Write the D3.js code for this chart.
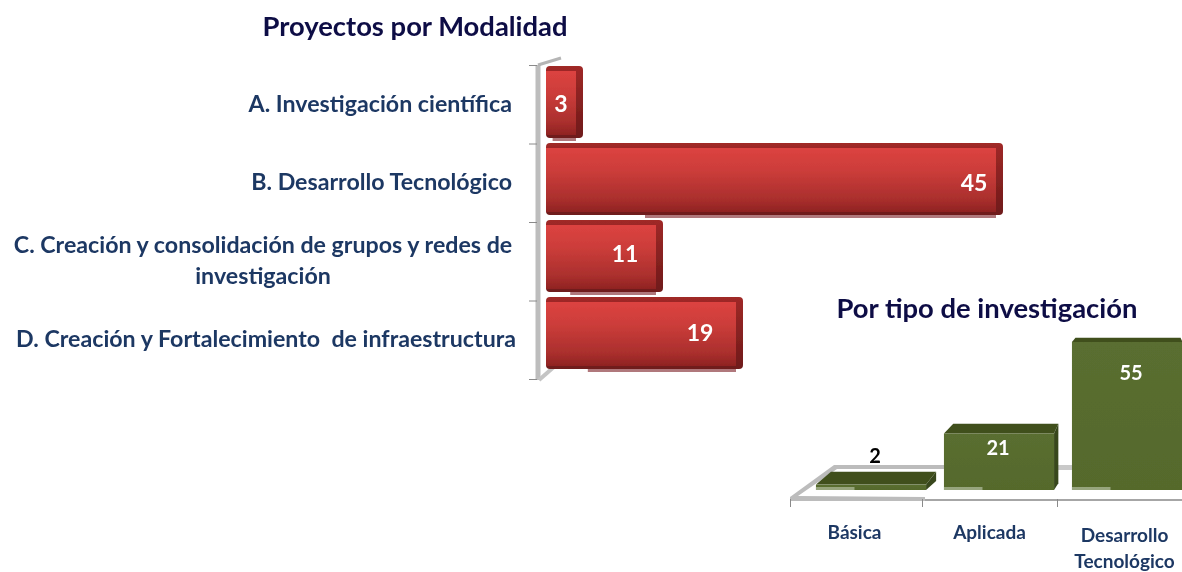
<!DOCTYPE html>
<html>
<head>
<meta charset="utf-8">
<script src="https://cdn.jsdelivr.net/npm/d3@7"></script>
<style>
  html, body { margin: 0; padding: 0; background: #fff; overflow: hidden; }
  text { font-family: Lato, "Open Sans", sans-serif; font-weight: 700; }
</style>
</head>
<body>
<div id="chart"></div>
<script>
// values
const modalidades = ["A", "B", "C", "D"];
const modalidadLabels = [
  ["A. Investigación científica"],
  ["B. Desarrollo Tecnológico"],
  ["C. Creación y consolidación de grupos y redes de", "investigación"],
  ["D. Creación y Fortalecimiento  de infraestructura"]
];
const modalidadValues = [3, 45, 11, 19];

const tipos = ["Básica", "Aplicada", "Desarrollo Tecnológico"];
const tipoLabels = [["Básica"], ["Aplicada"], ["Desarrollo", "Tecnológico"]];
const tipoValues = [2, 21, 55];

// hand placed number labels of the top chart, the original moved them by hand
const valueBackoff = [15, 22, 31, 36];
const valueDrop = [10, 12, 6, 8];

const width = 1182, height = 572;

const svg = d3.select("#chart").append("svg")
    .attr("width", width)
    .attr("height", height)
    .attr("viewBox", [0, 0, width, height])
    .style("display", "block");

const defs = svg.append("defs");

// slight softening, the original is a scaled-up raster
defs.append("filter").attr("id", "soft")
    .append("feGaussianBlur").attr("stdDeviation", 0.55);
defs.append("filter").attr("id", "softText")
    .append("feGaussianBlur").attr("stdDeviation", 0.3);

function vGrad(id, stops) {
  const g = defs.append("linearGradient").attr("id", id)
      .attr("x1", 0).attr("x2", 0).attr("y1", 0).attr("y2", 1);
  stops.forEach(s => g.append("stop").attr("offset", s[0]).attr("stop-color", s[1]));
}
vGrad("redFront", [[0, "#dc4340"], [0.35, "#cc3d3a"], [0.8, "#aa2f2d"], [1, "#8f2322"]]);
vGrad("redSide", [[0, "#a02927"], [1, "#6e1a1a"]]);
vGrad("greenFront", [[0, "#5a6e30"], [1, "#55692c"]]);

/* ---------- top chart: Proyectos por Modalidad ---------- */
const topChart = svg.append("g");

const xTop = d3.scaleLinear().domain([0, 45]).range([546, 996]);
const yTop = d3.scaleBand().domain(modalidades).range([63.5, 371.5]).paddingInner(0.065).paddingOuter(0.0325);
// axis ticks sit on the band edges, the category names are centred between them
const yEdges = d3.scaleLinear().domain([0, modalidades.length]).range([65, 379]);

const marksTop = topChart.append("g").attr("filter", "url(#soft)");

// grey wall behind the bars
const wallX = 538;
marksTop.append("line")
    .attr("x1", wallX).attr("x2", wallX)
    .attr("y1", yEdges(0)).attr("y2", yEdges(4) + 1)
    .attr("stroke", "#bdbdbd").attr("stroke-width", 5);
marksTop.append("polyline")
    .attr("points", [[wallX, yEdges(0)], [561, yEdges(0) - 7]].join(" "))
    .attr("fill", "none").attr("stroke", "#b5b5b5").attr("stroke-width", 3);
marksTop.append("polyline")
    .attr("points", [[wallX + 1, yEdges(4) + 1], [555, yEdges(4) - 13]].join(" "))
    .attr("fill", "none").attr("stroke", "#c4c4c4").attr("stroke-width", 4);

const axisTop = marksTop.append("g")
    .attr("transform", `translate(${wallX - 1},0)`)
    .call(d3.axisLeft(yEdges).tickValues(d3.range(0, 5)).tickSize(8).tickFormat(""));
axisTop.select(".domain").remove();
axisTop.selectAll("line").attr("stroke", "#8a8a8a").attr("stroke-width", 1);

const depth = 7;
const topData = modalidades.map((m, i) => ({ m, i, v: modalidadValues[i], lines: modalidadLabels[i] }));

const barTop = marksTop.selectAll(".barTop")
    .data(topData)
    .join("g")
    .attr("class", "barTop");

// pale reflection under each bar
barTop.append("rect")
    .attr("x", d => xTop(d.v * 0.22))
    .attr("width", d => xTop(d.v) - xTop(d.v * 0.22))
    .attr("y", d => yTop(d.m) + yTop.bandwidth() - 2)
    .attr("height", 5)
    .attr("fill", "#b0787b");

barTop.append("rect") // top and right faces
    .attr("x", d => xTop(0))
    .attr("width", d => xTop(d.v) - xTop(0) + depth)
    .attr("y", d => yTop(d.m))
    .attr("height", d => yTop.bandwidth())
    .attr("rx", 4)
    .attr("fill", "url(#redSide)");

barTop.append("rect") // front
    .attr("x", d => xTop(0))
    .attr("width", d => xTop(d.v) - xTop(0))
    .attr("y", d => yTop(d.m) + depth - 2)
    .attr("height", d => yTop.bandwidth() - depth - 1)
    .attr("fill", "url(#redFront)");

const textTop = topChart.append("g").attr("filter", "url(#softText)");

textTop.append("text")
    .attr("x", 415).attr("y", 36)
    .attr("text-anchor", "middle")
    .attr("font-size", 27.4)
    .attr("fill", "#0e0b45")
    .text("Proyectos por Modalidad");

textTop.selectAll(".valTop")
    .data(topData)
    .join("text")
    .attr("class", "valTop")
    .attr("x", d => xTop(d.v) - valueBackoff[d.i])
    .attr("y", d => yTop(d.m) + yTop.bandwidth() / 2 + valueDrop[d.i])
    .attr("text-anchor", "middle")
    .attr("font-size", 23)
    .attr("fill", "#fff")
    .text(d => d.v);

const labelTop = textTop.selectAll(".labTop")
    .data(topData)
    .join("text")
    .attr("class", "labTop")
    .attr("font-size", 23.2)
    .attr("fill", "#1f3864")
    .attr("text-anchor", d => d.lines.length > 1 ? "middle" : "end")
    .attr("transform", d => {
      const y = yEdges(d.i + 0.5);
      return d.lines.length > 1 ? `translate(263,${y - 8})` : `translate(${d.m === "D" ? 516 : 512},${y + 7.5})`;
    });
labelTop.selectAll("tspan")
    .data(d => d.lines)
    .join("tspan")
    .attr("x", 0)
    .attr("dy", (d, i) => i ? 31 : 0)
    .style("white-space", "pre")
    .text(d => d);

/* ---------- bottom chart: Por tipo de investigación ---------- */
const bottomChart = svg.append("g");

const xBar = d3.scaleBand().domain(tipos).range([807, 1191]).paddingInner(0.14).paddingOuter(0.07);
const xCat = d3.scaleBand().domain(tipos).range([787, 1192]);
const yBar = d3.scaleLinear().domain([0, 55]).range([490, 342]);

// the perspective of the 3D view: top faces lean towards this point
const vanish = { x: 1150, y: 270, kx: 0.045, ky: 0.06 };
const leanX = x => (vanish.x - x) * vanish.kx;
const leanY = y => (y - vanish.y) * vanish.ky;

const marksBottom = bottomChart.append("g").attr("filter", "url(#soft)");

// grey floor
const floorY = yBar(0);
marksBottom.append("polygon")
    .attr("points", [[790, floorY + 7], [834, floorY - 25], [945, floorY - 25], [945, floorY - 21],
                     [837, floorY - 21], [798, floorY + 6], [925, floorY + 7], [925, floorY + 11], [790, floorY + 11]].join(" "))
    .attr("fill", "#bcbcbc");
marksBottom.append("rect")
    .attr("x", 925).attr("y", floorY + 9).attr("width", 257).attr("height", 2)
    .attr("fill", "#a6a6a6");
marksBottom.append("rect")
    .attr("x", 1058).attr("y", floorY - 25).attr("width", 16).attr("height", 5)
    .attr("fill", "#c9c9c9");

const axisBottom = marksBottom.append("g")
    .attr("transform", `translate(0,${floorY + 9})`)
    .call(d3.axisBottom(d3.scaleLinear().domain([790, 1182]).range([790, 1182]))
      .tickValues([790, xCat(tipos[1]), xCat(tipos[2])]).tickSize(8).tickFormat(""));
axisBottom.select(".domain").remove();
axisBottom.selectAll("line").attr("stroke", "#8a8a8a");

const barData = tipos.map((t, i) => ({ t, v: tipoValues[i] }));
const barBottom = marksBottom.selectAll(".barBottom")
    .data(barData)
    .join("g")
    .attr("class", "barBottom");

barBottom.each(function (d) {
  const g = d3.select(this),
        x0 = xBar(d.t), x1 = x0 + xBar.bandwidth(),
        yt = yBar(d.v), yb = yBar(0),
        dy = leanY(yt);

  g.append("polygon") // right face
      .attr("points", [[x1, yt], [x1 + leanX(x1), yt - dy], [x1 + leanX(x1), yb - dy * 0.7], [x1, yb]].join(" "))
      .attr("fill", "#38471c");
  g.append("polygon") // top face
      .attr("points", [[x0, yt], [x0 + leanX(x0), yt - dy], [x1 + leanX(x1), yt - dy], [x1, yt]].join(" "))
      .attr("fill", "#3f4f1f");
  g.append("rect") // front
      .attr("x", x0).attr("width", x1 - x0)
      .attr("y", yt).attr("height", yb - yt)
      .attr("fill", "url(#greenFront)");
  g.append("rect") // pale strip along the foot
      .attr("x", x0).attr("width", (x1 - x0) * 0.35)
      .attr("y", yBar(0) - 3).attr("height", 3)
      .attr("fill", "#97a57d");
});

const textBottom = bottomChart.append("g").attr("filter", "url(#softText)");

textBottom.append("text")
    .attr("x", 987).attr("y", 318)
    .attr("text-anchor", "middle")
    .attr("font-size", 27.4)
    .attr("fill", "#0e0b45")
    .text("Por tipo de investigación");

textBottom.selectAll(".valBottom")
    .data(barData)
    .join("text")
    .attr("class", "valBottom")
    .attr("x", d => d.v < 5 ? 875 : xBar(d.t) + xBar.bandwidth() / 2 + (d.v > 30 ? 4 : -1))
    .attr("y", d => d.v < 5 ? 463 : yBar(d.v) + (d.v > 30 ? 38 : 22))
    .attr("text-anchor", "middle")
    .attr("font-size", 20)
    .attr("fill", d => d.v < 5 ? "#000" : "#fff")
    .text(d => d.v);

const labelBottom = textBottom.selectAll(".labBottom")
    .data(tipos.map((t, i) => ({ t, lines: tipoLabels[i] })))
    .join("text")
    .attr("class", "labBottom")
    .attr("font-size", 19)
    .attr("fill", "#1f3864")
    .attr("text-anchor", "middle")
    .attr("transform", d => `translate(${xCat(d.t) + xCat.bandwidth() / 2},${d.lines.length > 1 ? 542 : 539})`);
labelBottom.selectAll("tspan")
    .data(d => d.lines)
    .join("tspan")
    .attr("x", 0)
    .attr("dy", (d, i) => i ? 26 : 0)
    .text(d => d);
</script>
</body>
</html>
